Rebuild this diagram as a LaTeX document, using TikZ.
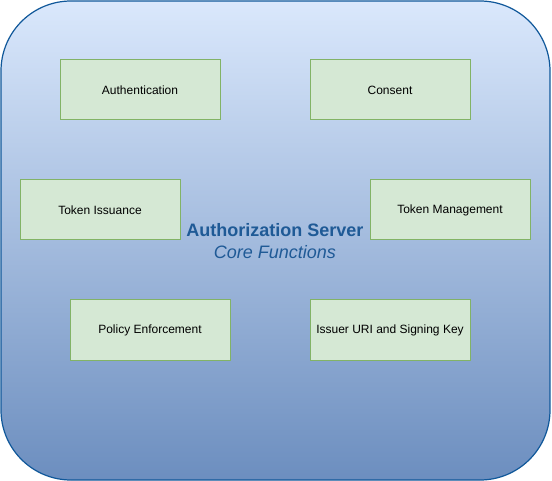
\documentclass[tikz,border=0pt]{standalone}
\usepackage{fontspec}
\setmainfont{Liberation Sans}
\definecolor{topblue}{HTML}{DAE8FC}
\definecolor{botblue}{HTML}{6C8EBF}
\definecolor{outline}{HTML}{10589A}
\definecolor{titlec}{HTML}{1F5A96}
\definecolor{gfill}{HTML}{D5E8D4}
\definecolor{gline}{HTML}{82B366}
\begin{document}
\begin{tikzpicture}[x=1pt,y=-1pt,
  fn/.style={draw=gline, fill=gfill, line width=1pt, minimum width=160pt, minimum height=60pt, inner sep=0pt, font=\fontsize{12}{14}\selectfont, text=black}]
\useasboundingbox (0,0) rectangle (552,481);
\node[draw=outline, line width=1.2pt, top color=topblue, bottom color=botblue, rounded corners=70pt, minimum width=549pt, minimum height=479pt, inner sep=0pt] (server) at (275.5,240.5) {};
\node[fn] (auth) at (140,90) {Authentication};
\node[fn] (consent) at (390,90) {Consent};
\node[fn] (issuance) at (100,210) {Token Issuance};
\node[fn] (mgmt) at (450,210) {Token Management};
\node[fn] (policy) at (150,330) {Policy Enforcement};
\node[fn] (issuer) at (390,330) {Issuer URI and Signing Key};
\node[text=titlec, align=center, font=\fontsize{18}{22}\selectfont] (title) at (275,241) {\textbf{Authorization Server}\\\textit{Core Functions}};
\end{tikzpicture}
\end{document}
